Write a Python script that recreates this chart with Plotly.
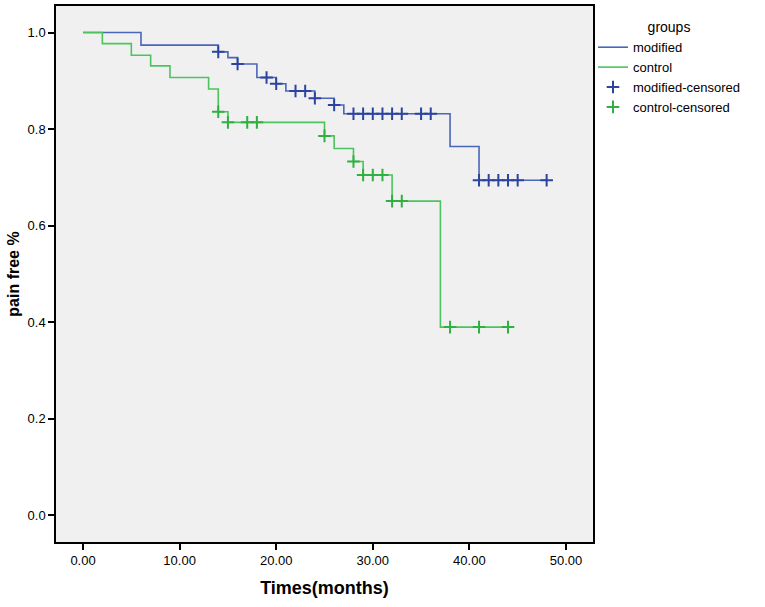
import numpy as np
import plotly.graph_objects as go

# Kaplan-Meier step values
mod_time = [0, 6, 14, 15, 16, 18, 20, 21, 24, 26, 27, 38, 41]
mod_surv = [1.0, 0.974, 0.960, 0.948, 0.935, 0.907, 0.894, 0.879, 0.864, 0.850, 0.832, 0.764, 0.694]
mod_end = 48
mod_censored = [14, 16, 19, 20, 22, 23, 24, 26, 28, 29, 30, 31, 32, 33, 35, 36,
                41, 42, 43, 44, 45, 48]

ctl_time = [0, 2, 5, 7, 9, 13, 14, 15, 25, 26, 28, 29, 32, 37]
ctl_surv = [1.0, 0.977, 0.953, 0.931, 0.907, 0.883, 0.836, 0.814, 0.786, 0.760, 0.733, 0.705, 0.651, 0.390]
ctl_end = 44
ctl_censored = [14, 15, 17, 18, 25, 28, 29, 30, 31, 32, 33, 38, 41, 44]

x_ticks = [0, 10, 20, 30, 40, 50]
y_ticks = [0.0, 0.2, 0.4, 0.6, 0.8, 1.0]


def surv_at(times, surv, t):
    idx = np.searchsorted(times, t, side='right') - 1
    return [surv[i] for i in idx]


fig = go.Figure()

fig.add_trace(go.Scatter(
    x=mod_time + [mod_end], y=mod_surv + [mod_surv[-1]],
    mode='lines', line=dict(color='#4a66b8', width=1.6, shape='hv'),
    name='modified',
))
fig.add_trace(go.Scatter(
    x=ctl_time + [ctl_end], y=ctl_surv + [ctl_surv[-1]],
    mode='lines', line=dict(color='#4cc35c', width=1.6, shape='hv'),
    name='control',
))
fig.add_trace(go.Scatter(
    x=mod_censored, y=surv_at(mod_time, mod_surv, mod_censored),
    mode='markers',
    marker=dict(symbol='cross-thin', size=9, line=dict(color='#2c44a0', width=2)),
    name='modified-censored',
))
fig.add_trace(go.Scatter(
    x=ctl_censored, y=surv_at(ctl_time, ctl_surv, ctl_censored),
    mode='markers',
    marker=dict(symbol='cross-thin', size=9, line=dict(color='#2fb040', width=2)),
    name='control-censored',
))

fig.update_layout(
    width=765,
    height=607,
    autosize=False,
    margin=dict(l=56, r=172, t=4, b=65),
    paper_bgcolor='white',
    plot_bgcolor='#f0f0f0',
    font=dict(family='Arial, Liberation Sans, sans-serif', size=13, color='black'),
    legend=dict(
        x=1.0, y=0.985, xanchor='left', yanchor='top',
        bgcolor='rgba(0,0,0,0)',
        title=dict(text='groups', side='top center', font=dict(size=14)),
        font=dict(size=13),
        tracegroupgap=0,
        itemwidth=30,
    ),
    xaxis=dict(
        range=[-2.8, 52.8],
        tickvals=x_ticks,
        tickformat='.2f',
        ticks='outside', ticklen=6, tickwidth=1.5, tickcolor='black',
        showgrid=False, zeroline=False,
        showline=True, linecolor='black', linewidth=1.5, mirror=True,
        title=dict(text='<b>Times(months)</b>', font=dict(size=18), standoff=14),
    ),
    yaxis=dict(
        range=[-0.055, 1.055],
        tickvals=y_ticks,
        tickformat='.1f',
        ticks='outside', ticklen=6, tickwidth=1.5, tickcolor='black',
        showgrid=False, zeroline=False,
        showline=True, linecolor='black', linewidth=1.5, mirror=True,
        title=dict(text='<b>pain free %</b>', font=dict(size=16), standoff=4),
    ),
)

fig.write_html("out.html", config={'displayModeBar': False},
               post_script="document.body.style.margin='0';")
